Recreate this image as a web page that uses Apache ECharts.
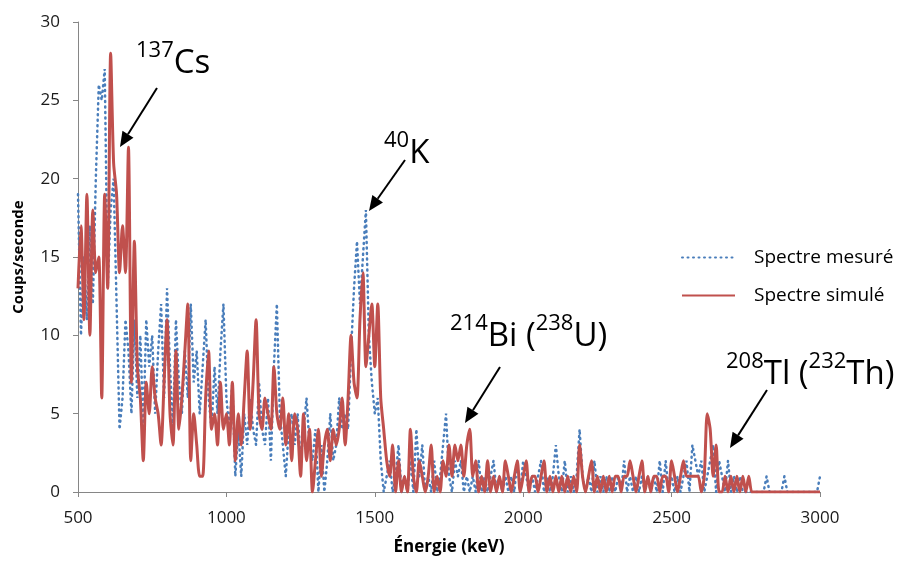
<!DOCTYPE html>
<html>
<head>
<meta charset="utf-8">
<script src="https://cdn.jsdelivr.net/npm/echarts@6/dist/echarts.min.js"></script>
<style>
	html,body{margin:0;padding:0;background:#fff;}
	#chart{width:903px;height:563px;}
</style>
</head>
<body>
<div id="chart"></div>
<script>
// canaux de 10 keV, de 500 a 3000 keV
var energyStart = 500;
var energyStep = 10;

// spectre mesure (coups/seconde)
var measured500 = [19,10,15,11,17,12,20,26,25,27, 13,18,20,12,4,6,11,9,5,11, 6,10,4,11,8,10,5,9,12,6, 13,8,4,11,7,5,9,6,12,7, 9,5,8,11,6,4,8,5,9,12];
var measured1000 = [6,4,7,1,4,1,5,3,6,4, 3,7,4,3,6,2,8,12,5,3, 1,4,5,3,5,2,4,6,3,2, 4,0,3,0,2,5,2,3,6,4, 5,4,9,13,16,12,15,18,10,7];
var measured1500 = [5,6,2,0,1,2,0,1,3,0, 1,0,2,0,4,1,3,0,1,0, 2,0,1,3,5,1,0,2,1,2, 0,1,0,1,0,2,0,1,0,1, 2,0,1,0,1,0,1,0,2,0];
var measured2000 = [2,1,0,1,0,1,2,0,1,0, 1,3,1,0,2,0,1,0,1,4, 1,0,1,0,2,0,1,0,1,0, 1,0,1,0,2,0,1,0,1,0, 1,0,1,0,1,0,2,0,2,0];
var measured2500 = [1,0,1,0,1,2,0,3,2,1, 2,0,1,2,3,0,2,1,0,2, 0,1,0,1,0,0,0,0,0,0, 0,0,1,0,0,0,0,0,1,0, 0,0,0,0,0,0,0,0,0,0, 1];

// spectre simule (coups/seconde)
var simulated500 = [13,17,11,19,10,18,14,15,6,19, 13,28,21,19,14,17,14,22,7,16, 8,6,2,7,5,8,6,5,3,7, 11,5,3,9,4,6,9,12,2,5, 3,1,1,6,9,4,5,3,7,4];
var simulated1000 = [5,3,7,2,5,3,6,9,4,7, 11,5,4,6,5,4,8,5,4,6, 3,5,2,5,4,1,5,2,4,0, 2,4,1,3,4,2,4,3,4,6, 3,6,10,7,6,11,14,8,10,12];
var simulated1500 = [8,12,6,4,2,1,3,0,2,0, 1,0,4,1,0,2,1,0,1,3, 0,1,0,2,1,3,1,3,2,3, 1,3,4,1,2,0,1,0,2,0, 1,0,1,0,2,1,0,1,2,0];
var simulated2000 = [1,2,0,1,1,0,1,2,0,1, 0,1,0,1,0,1,0,1,0,3, 1,0,1,2,0,1,0,1,0,1, 0,1,1,0,1,1,2,1,0,1, 2,0,1,0,1,1,0,1,1,0];
var simulated2500 = [2,1,0,1,2,1,1,1,1,1, 0,1,5,4,1,3,0,0,1,0, 1,0,1,0,1,0,1,0,0,0, 0,0,0,0,0,0,0,0,0,0, 0,0,0,0,0,0,0,0,0,0, 0];

var xTicks = {min:500, max:3000, interval:500};
var yTicks = {min:0, max:30, interval:5};

function toPairs(vals) {
	var out = [];
	for(var i=0;i<vals.length;i++) {
		out.push([energyStart + i*energyStep, vals[i]]);
	}
	return out;
}

var measured = toPairs([].concat(measured500, measured1000, measured1500, measured2000, measured2500));
var simulated = toPairs([].concat(simulated500, simulated1000, simulated1500, simulated2000, simulated2500));

var FONT = '"Open Sans", sans-serif';

// fleche noire (annotation)
function arrow(x1, y1, x2, y2) {
	var ang = Math.atan2(y2-y1, x2-x1);
	var len = 15, wid = 6.5;
	var bx = x2 - len*Math.cos(ang), by = y2 - len*Math.sin(ang);
	var px = -Math.sin(ang)*wid, py = Math.cos(ang)*wid;
	return [
		{type:'line', shape:{x1:x1,y1:y1,x2:bx,y2:by}, style:{stroke:'#000', lineWidth:2}},
		{type:'polygon', shape:{points:[[x2,y2],[bx+px,by+py],[bx-px,by-py]]}, style:{fill:'#000'}}
	];
}

var supRich = {
	s:{fontSize:22, fontFamily:FONT, fill:'#000', verticalAlign:'top', lineHeight:24},
	m:{fontSize:33, fontFamily:FONT, fill:'#000', verticalAlign:'bottom', lineHeight:40}
};
function label(x, y, txt) {
	return {type:'text', x:x, y:y, style:{text:txt, rich:supRich, fill:'#000', font:'33px ' + FONT}};
}

var graphics = [].concat(
	label(136, 40, '{s|137}{m|Cs}'),
	arrow(157, 88, 120, 147),
	label(384, 130, '{s|40}{m|K}'),
	arrow(405, 160, 369, 211),
	label(450, 313, '{s|214}{m|Bi (}{s|238}{m|U)}'),
	arrow(500, 367, 465, 423),
	label(726, 351, '{s|208}{m|Tl (}{s|232}{m|Th)}'),
	arrow(767, 390, 730, 448)
);

var myChart = echarts.init(document.getElementById('chart'));
myChart.setOption({
	animation:false,
	backgroundColor:'#fff',
	grid:{left:78, right:83, top:22, bottom:71},
	legend:{
		orient:'vertical',
		left:676, top:243,
		itemWidth:53, itemHeight:12, itemGap:19,
		itemStyle:{opacity:0},
		textStyle:{fontFamily:FONT, fontSize:19, color:'#000', padding:[0,0,0,14]},
		data:['Spectre mesuré','Spectre simulé']
	},
	xAxis:{
		type:'value',
		min:xTicks.min, max:xTicks.max, interval:xTicks.interval,
		name:'Énergie (keV)', nameLocation:'middle', nameGap:47,
		nameTextStyle:{fontFamily:FONT, fontSize:17, fontWeight:'bold', color:'#000'},
		axisLine:{lineStyle:{color:'#868686', width:1}},
		axisTick:{show:true, length:5, lineStyle:{color:'#868686'}},
		axisLabel:{fontFamily:FONT, fontSize:17, color:'#1a1a1a', margin:18, formatter:function(v){return String(v);}},
		splitLine:{show:false}
	},
	yAxis:{
		type:'value',
		min:yTicks.min, max:yTicks.max, interval:yTicks.interval,
		name:'Coups/seconde', nameLocation:'middle', nameGap:52,
		nameTextStyle:{fontFamily:FONT, fontSize:15, fontWeight:'bold', color:'#000'},
		axisLine:{show:true, lineStyle:{color:'#868686', width:1}},
		axisTick:{show:true, length:5, lineStyle:{color:'#868686'}},
		axisLabel:{fontFamily:FONT, fontSize:17, color:'#1a1a1a', margin:18},
		splitLine:{show:false}
	},
	series:[
		{
			name:'Spectre mesuré',
			type:'line',
			data:measured,
			symbol:'none',
			lineStyle:{color:'#4A7EBB', width:2.5, type:[1,4.5], cap:'round'},
			itemStyle:{color:'#4A7EBB'},
			z:2
		},
		{
			name:'Spectre simulé',
			type:'line',
			data:simulated,
			symbol:'none',
			smooth:0.25,
			lineStyle:{color:'#C0504D', width:3},
			itemStyle:{color:'#C0504D'},
			z:3
		}
	],
	graphic:graphics
});
</script>
</body>
</html>
